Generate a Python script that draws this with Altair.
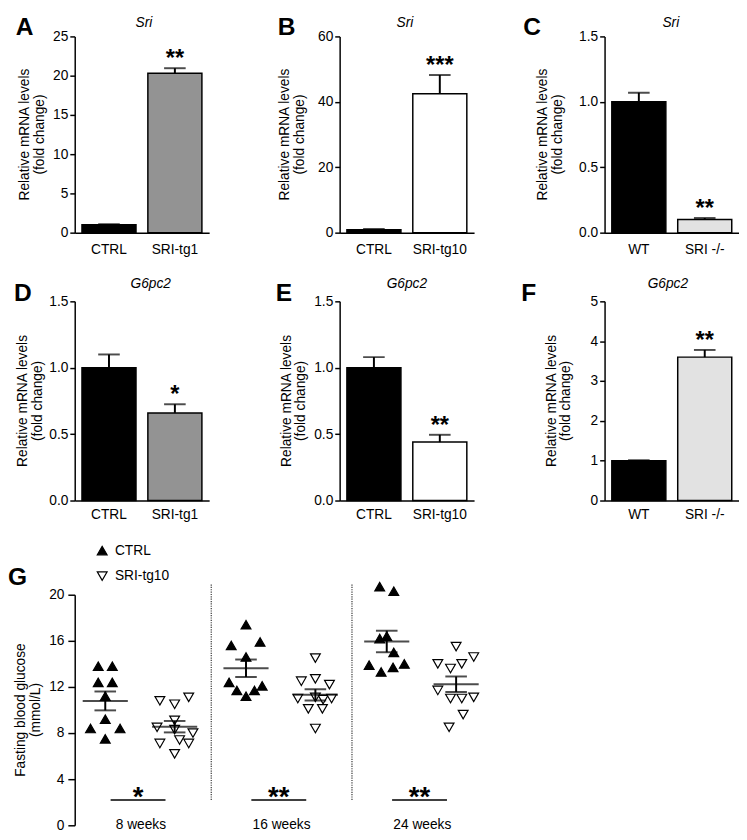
import altair as alt
import numpy as np
import pandas as pd

FONT = "Liberation Sans"

# ---------------- Panels A-F : relative mRNA levels (mean, SEM) ----------------
A_groups = ["CTRL", "SRI-tg1"]
A_values = [1.0, 20.3]
A_errors = [0.08, 0.65]
A_stars = ["", "**"]
A_fills = ["#000000", "#939393"]

B_groups = ["CTRL", "SRI-tg10"]
B_values = [0.9, 42.5]
B_errors = [0.2, 5.7]
B_stars = ["", "***"]
B_fills = ["#000000", "#ffffff"]

C_groups = ["WT", "SRI -/-"]
C_values = [1.0, 0.10]
C_errors = [0.07, 0.012]
C_stars = ["", "**"]
C_fills = ["#000000", "#e2e2e2"]

D_groups = ["CTRL", "SRI-tg1"]
D_values = [1.0, 0.66]
D_errors = [0.10, 0.065]
D_stars = ["", "*"]
D_fills = ["#000000", "#939393"]

E_groups = ["CTRL", "SRI-tg10"]
E_values = [1.0, 0.44]
E_errors = [0.08, 0.055]
E_stars = ["", "**"]
E_fills = ["#000000", "#ffffff"]

F_groups = ["WT", "SRI -/-"]
F_values = [1.0, 3.6]
F_errors = [0.012, 0.18]
F_stars = ["", "**"]
F_fills = ["#000000", "#e2e2e2"]

bar_ytitle = ["Relative mRNA levels", "(fold change)"]

# ---------------- Panel G : fasting blood glucose (mmol/L) ----------------
weeks = ["8 weeks", "16 weeks", "24 weeks"]
g_groups = ["CTRL", "SRI-tg10"]
g_ytitle = ["Fasting blood glucose", "(mmol/L)"]

ctrl_8 = [13.8, 13.8, 12.4, 12.4, 11.2, 9.2, 8.4, 8.4, 7.5]
ctrl_8_slot = [-1, 1, -1, 1, 0, 0, -2.1, 2.1, 0]
tg10_8 = [10.8, 10.5, 11.1, 9.1, 8.5, 8.3, 8.0, 7.1, 7.4, 7.1, 6.2]
tg10_8_slot = [-2.1, 0, 2, 0, -2.5, 0, 2.6, -2.1, 0.7, 2, 0]

ctrl_16 = [17.4, 15.6, 15.9, 14.6, 12.4, 11.7, 11.2, 11.7, 12.1]
ctrl_16_slot = [0, -2.1, 2, 0, -2.4, -1.3, 0, 1.2, 2.3]
tg10_16 = [14.5, 12.5, 12.7, 12.2, 11.0, 11.1, 10.9, 11.0, 10.1, 10.1, 8.4]
tg10_16_slot = [0, -2, 0, 2, -2.5, 0, 1.1, 2.3, -1, 1, 0]

ctrl_24 = [20.7, 20.3, 16.2, 16.4, 15.0, 13.9, 13.3, 13.7, 14.0]
ctrl_24_slot = [-1, 1, -1, 0, 1, -2.5, -0.8, 0.9, 2.5]
tg10_24 = [15.5, 14.6, 14.0, 13.6, 14.0, 11.7, 11.0, 11.0, 11.1, 9.6, 8.5]
tg10_24_slot = [0, 2.5, -2.6, -0.8, 0.8, -2.6, -0.8, 0.8, 2.5, 1, -1]

g_stars = ["*", "**", "**"]
sig_y = [2.2, 2.2, 2.2]
divider_x = [1, 2]
divider_y = [2.2, 20.9]


def text_chart(t, dx, dy, size=14, weight="normal", style="normal", align="left", angle=0):
    return alt.Chart(pd.DataFrame({"t": [t]})).mark_text(
        font=FONT, fontSize=size, fontWeight=weight, fontStyle=style, align=align,
        baseline="alphabetic", angle=angle, color="black"
    ).encode(x=alt.value(dx), y=alt.value(dy), text="t:N")


def bar_panel(letter, gene, groups, values, errors, stars, fills, ymax, yticks,
              fmt, H, letter_dx, letter_dy, gene_dx, gene_dy, label_pad, t1, t2):
    W = 137
    df = pd.DataFrame({"group": groups, "value": values, "err": errors,
                       "star": stars, "fill": fills})
    df["top"] = df["value"] + df["err"]
    xscale = alt.Scale(paddingInner=0.18, paddingOuter=0.11)
    xaxis = alt.Axis(labelAngle=0, ticks=False, tickSize=0, labelPadding=label_pad)
    yscale = alt.Scale(domain=[0, ymax], nice=False)
    yaxis = alt.Axis(values=yticks, format=fmt, tickSize=5, labelPadding=2, title=None)

    def X():
        return alt.X("group:N", sort=groups, title=None, scale=xscale, axis=xaxis)

    def Y(f):
        return alt.Y(f, scale=yscale, axis=yaxis)

    base = alt.Chart(df)
    bars = base.mark_bar(stroke="black", strokeWidth=1.5).encode(
        x=X(), y=Y("value:Q"), fill=alt.Fill("fill:N", scale=None))
    err = base.mark_rule(color="black", strokeWidth=2).encode(
        x=X(), y=Y("value:Q"), y2="top:Q")
    cap = base.mark_tick(color="black", thickness=2, size=22, orient="horizontal").encode(
        x=X(), y=Y("top:Q"))
    star = base.mark_text(font=FONT, fontSize=24, fontWeight="bold",
                          baseline="alphabetic", dy=-2).encode(
        x=X(), y=Y("top:Q"), text="star:N")
    lab = text_chart(letter, letter_dx, letter_dy, size=25, weight="bold")
    gen = text_chart(gene, W / 2 + gene_dx, gene_dy, style="italic", align="center")
    ti1 = text_chart(bar_ytitle[0], t1, H / 2, align="center", angle=270)
    ti2 = text_chart(bar_ytitle[1], t2, H / 2, align="center", angle=270)
    return alt.layer(bars, err, cap, star, lab, gen, ti1, ti2).properties(width=W, height=H)


H1, H2 = 200, 203
A = bar_panel("A", "Sri", A_groups, A_values, A_errors, A_stars, A_fills, 25,
              [0, 5, 10, 15, 20, 25], "d", H1, -60, -1, 2, -10, 10, -47, -31)
B = bar_panel("B", "Sri", B_groups, B_values, B_errors, B_stars, B_fills, 60,
              [0, 20, 40, 60], "d", H1, -63, -1, -2, -10, 10, -52, -36)
C = bar_panel("C", "Sri", C_groups, C_values, C_errors, C_stars, C_fills, 1.5,
              [0, 0.5, 1.0, 1.5], ".1f", H1, -83, -1, -1, -10, 10, -59, -43)
D = bar_panel("D", "G6pc2", D_groups, D_values, D_errors, D_stars, D_fills, 1.5,
              [0, 0.5, 1.0, 1.5], ".1f", H2, -62, 0, 9, -14, 7, -49, -33)
E = bar_panel("E", "G6pc2", E_groups, E_values, E_errors, E_stars, E_fills, 1.5,
              [0, 0.5, 1.0, 1.5], ".1f", H2, -65, 0, 0, -14, 7, -50, -35)
F = bar_panel("F", "G6pc2", F_groups, F_values, F_errors, F_stars, F_fills, 5,
              [0, 1, 2, 3, 4, 5], "d", H2, -85, 0, -4, -14, 7, -50, -35)

# ---------------- build panel G ----------------
rows = []
series = [
    (0, "CTRL", ctrl_8, ctrl_8_slot), (0, "SRI-tg10", tg10_8, tg10_8_slot),
    (1, "CTRL", ctrl_16, ctrl_16_slot), (1, "SRI-tg10", tg10_16, tg10_16_slot),
    (2, "CTRL", ctrl_24, ctrl_24_slot), (2, "SRI-tg10", tg10_24, tg10_24_slot),
]
summ = []
for wi, grp, vals, slots in series:
    for v, s in zip(vals, slots):
        rows.append({"week": wi, "group": grp, "value": v, "slot": s})
    arr = np.array(vals)
    m = arr.mean()
    se = arr.std(ddof=1) / np.sqrt(len(arr))
    summ.append({"week": wi, "group": grp, "mean": m, "lo": m - se, "hi": m + se})
gdf = pd.DataFrame(rows)
sdf = pd.DataFrame(summ)
offset_expr = "datum.week + 0.5 + (datum.group == 'CTRL' ? -0.253 : 0.24)"

# panel G view: the upper strip holds the legend, the y axis spans the lower 235 px
WG, G_TOP, G_AX = 426, 54, 235
HG = G_TOP + G_AX
gx = alt.Scale(domain=[0.03, 3.0], nice=False, zero=False)
gy = alt.Scale(domain=[0, 20], range=[HG, G_TOP], nice=False)
gyaxis = alt.Axis(values=[0, 4, 8, 12, 16, 20], tickSize=7, labelPadding=4, title=None)


def GX(field):
    return alt.X(field, scale=gx, axis=None)


def GY(field):
    return alt.Y(field, scale=gy, axis=gyaxis)


legend = alt.Legend(title=None, orient="none", legendX=21, legendY=2,
                    labelFont=FONT, labelFontSize=14, labelColor="black",
                    symbolSize=100, symbolStrokeColor="black", symbolStrokeWidth=1.2,
                    rowPadding=12, labelOffset=6, padding=0)

points = alt.Chart(gdf).transform_calculate(
    xpos=offset_expr + " + datum.slot * 0.05"
).mark_point(filled=True, size=100, strokeWidth=1.2, opacity=1).encode(
    x=GX("xpos:Q"),
    y=GY("value:Q"),
    shape=alt.Shape("group:N", scale=alt.Scale(domain=g_groups,
                    range=["triangle-up", "triangle-down"]), legend=legend),
    fill=alt.Fill("group:N", scale=alt.Scale(domain=g_groups,
                  range=["#000000", "#ffffff"]), legend=legend),
    stroke=alt.Stroke("group:N", scale=alt.Scale(domain=g_groups,
                      range=["#000000", "#000000"]), legend=legend),
)

sbase = alt.Chart(sdf).transform_calculate(xc=offset_expr)
mean_tick = sbase.mark_tick(orient="horizontal", size=46, thickness=2, color="black").encode(
    x=GX("xc:Q"), y=GY("mean:Q"))
sem_rule = sbase.mark_rule(strokeWidth=2, color="black").encode(
    x=GX("xc:Q"), y=GY("lo:Q"), y2="hi:Q")
cap_hi = sbase.mark_tick(orient="horizontal", size=22, thickness=2, color="black").encode(
    x=GX("xc:Q"), y=GY("hi:Q"))
cap_lo = sbase.mark_tick(orient="horizontal", size=22, thickness=2, color="black").encode(
    x=GX("xc:Q"), y=GY("lo:Q"))

ddf = pd.DataFrame({"x": divider_x, "y1": divider_y[0], "y2": divider_y[1]})
dividers = alt.Chart(ddf).mark_rule(strokeDash=[1.2, 1.2], strokeWidth=1.2, color="#333333").encode(
    x=GX("x:Q"), y=GY("y1:Q"), y2="y2:Q")

sig_df = pd.DataFrame({"week": [0, 1, 2], "y": sig_y, "star": g_stars, "label": weeks})
sig_base = alt.Chart(sig_df).transform_calculate(
    xc="datum.week + 0.48", xa="datum.week + 0.285", xb="datum.week + 0.675")
sig_lines = sig_base.mark_rule(strokeWidth=1.5, color="black").encode(
    x=GX("xa:Q"), x2="xb:Q", y=GY("y:Q"))
sig_text = sig_base.mark_text(font=FONT, fontSize=28, fontWeight="bold",
                              baseline="alphabetic", dy=6).encode(
    x=GX("xc:Q"), y=GY("y:Q"), text="star:N")
week_text = alt.Chart(sig_df).transform_calculate(
    xc="datum.week + 0.5", zero="0").mark_text(
    font=FONT, fontSize=14, baseline="middle").encode(
    x=GX("xc:Q"), y=GY("zero:Q"), text="label:N")

g_letter = text_chart("G", -68, G_TOP - 10, size=25, weight="bold")
g_t1 = text_chart(g_ytitle[0], -51, G_TOP + G_AX / 2, align="center", angle=270)
g_t2 = text_chart(g_ytitle[1], -35, G_TOP + G_AX / 2, align="center", angle=270)

G = alt.layer(dividers, sig_lines, sig_text, week_text, points, mean_tick, sem_rule,
              cap_hi, cap_lo, g_letter, g_t1, g_t2).properties(width=WG, height=HG)

row1 = alt.hconcat(A, B, C, spacing=133, bounds="flush")
row2 = alt.hconcat(D, E, F, spacing=133, bounds="flush")

chart = alt.vconcat(row1, row2, G, spacing=21, bounds="full").resolve_scale(
    shape="independent", fill="independent", stroke="independent"
).resolve_legend(
    shape="independent", fill="independent", stroke="independent"
).properties(
    padding=0
).configure_view(stroke=None).configure_axis(
    labelFont=FONT, labelFontSize=14, labelColor="black",
    domainColor="black", tickColor="black", domainWidth=1.5, tickWidth=1.5, grid=False,
)

chart.save("out.html", embed_options={"renderer": "svg", "actions": False})
